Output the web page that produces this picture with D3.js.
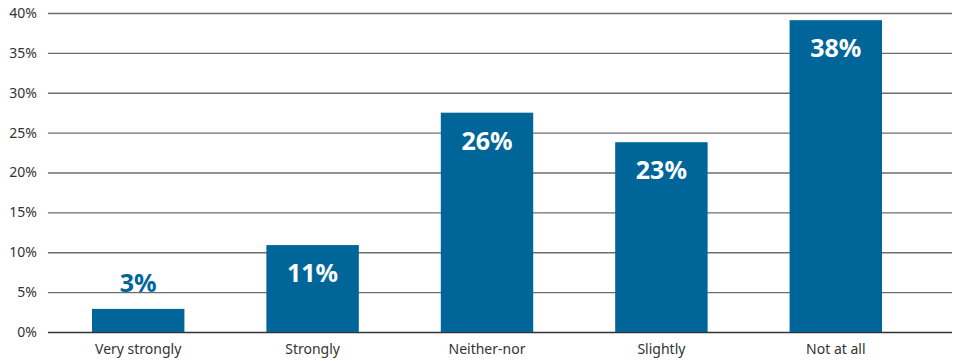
<!DOCTYPE html>
<html>
<head>
<meta charset="utf-8">
<script src="https://cdn.jsdelivr.net/npm/d3@7"></script>
<style>
  body { margin: 0; background: #fff; }
  text { font-family: "Noto Sans", sans-serif; }
</style>
</head>
<body>
<div id="chart"></div>
<script>
const categories = ["Very strongly", "Strongly", "Neither-nor", "Slightly", "Not at all"];
const values = [2.9, 10.9, 27.5, 23.8, 39.1];
const valueLabels = ["3%", "11%", "26%", "23%", "38%"];
const yTicks = [0, 5, 10, 15, 20, 25, 30, 35, 40];

const width = 954, height = 361;
const margin = { top: 13, right: 2, bottom: 29, left: 48 };

const svg = d3.select("#chart")
  .append("svg")
  .attr("width", width)
  .attr("height", height);

const x = d3.scaleBand()
  .domain(categories)
  .range([51, 923])
  .paddingInner(0.47)
  .paddingOuter(0.235);

const y = d3.scaleLinear()
  .domain([0, 40])
  .range([height - margin.bottom, margin.top]);

// gridlines
svg.append("g")
  .selectAll("line")
  .data(yTicks)
  .enter()
  .append("line")
  .attr("x1", margin.left)
  .attr("x2", width - margin.right)
  .attr("y1", d => y(d) + 0.5)
  .attr("y2", d => y(d) + 0.5)
  .attr("stroke", d => d === 0 ? "#333" : "#6e6e6e")
  .attr("stroke-width", d => d === 0 ? 1.5 : 1.3);

// y labels
svg.append("g")
  .selectAll("text")
  .data(yTicks)
  .enter()
  .append("text")
  .attr("x", 37)
  .attr("y", d => y(d))
  .attr("dy", "0.35em")
  .attr("text-anchor", "end")
  .attr("font-size", "14px")
  .attr("fill", "#333")
  .text(d => d + "%");

// bars
svg.append("g")
  .selectAll("rect")
  .data(values)
  .enter()
  .append("rect")
  .attr("x", (d, i) => x(categories[i]))
  .attr("y", d => y(d))
  .attr("width", x.bandwidth())
  .attr("height", d => y(0) - y(d))
  .attr("fill", "#006699");

// value labels
svg.append("g")
  .selectAll("text")
  .data(values)
  .enter()
  .append("text")
  .attr("x", (d, i) => x(categories[i]) + x.bandwidth() / 2)
  .attr("y", d => d < 6 ? y(d) - 17 : y(d) + 37)
  .attr("text-anchor", "middle")
  .attr("font-size", "25px")
  .attr("font-weight", "bold")
  .attr("fill", d => d < 6 ? "#006699" : "#fff")
  .text((d, i) => valueLabels[i]);

// category labels
svg.append("g")
  .selectAll("text")
  .data(categories)
  .enter()
  .append("text")
  .attr("x", d => x(d) + x.bandwidth() / 2)
  .attr("y", 354)
  .attr("text-anchor", "middle")
  .attr("font-size", "14px")
  .attr("fill", "#333")
  .text(d => d);
</script>
</body>
</html>
